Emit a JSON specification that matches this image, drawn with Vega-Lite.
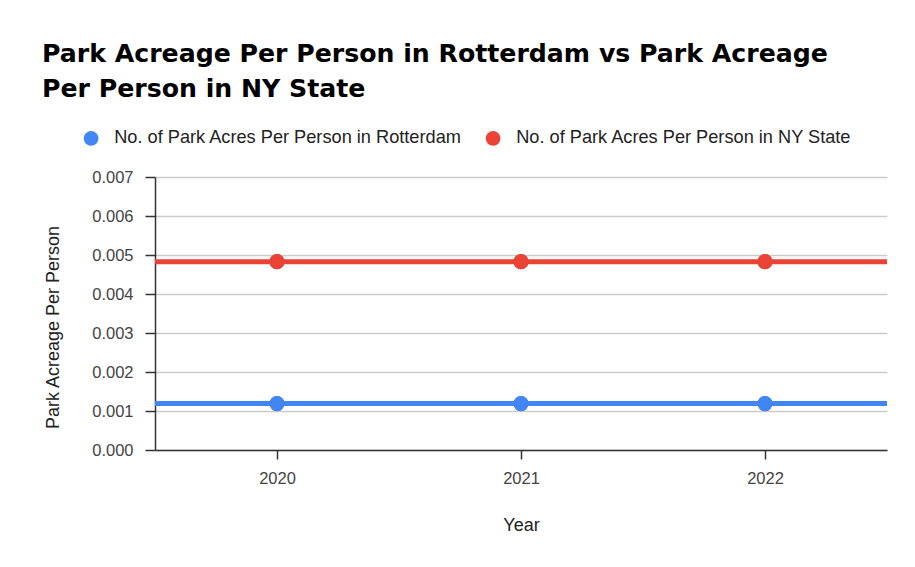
{
  "$schema": "https://vega.github.io/schema/vega-lite/v6.json",
  "width": 732,
  "height": 273,
  "autosize": {"type": "none"},
  "padding": {"left": 155, "top": 177, "right": 28, "bottom": 117},
  "background": "white",
  "title": {
    "text": ["Park Acreage Per Person in Rotterdam vs Park Acreage", "Per Person in NY State"],
    "anchor": "start",
    "frame": "group",
    "dx": -113,
    "offset": 27,
    "font": "DejaVu Sans",
    "fontSize": 25.2,
    "fontWeight": "bold",
    "color": "#000000",
    "lineHeight": 35
  },
  "data": {
    "values": [
      {"Year": "2020", "series": "No. of Park Acres Per Person in Rotterdam", "value": 0.00119},
      {"Year": "2021", "series": "No. of Park Acres Per Person in Rotterdam", "value": 0.00119},
      {"Year": "2022", "series": "No. of Park Acres Per Person in Rotterdam", "value": 0.00119},
      {"Year": "2020", "series": "No. of Park Acres Per Person in NY State", "value": 0.00483},
      {"Year": "2021", "series": "No. of Park Acres Per Person in NY State", "value": 0.00483},
      {"Year": "2022", "series": "No. of Park Acres Per Person in NY State", "value": 0.00483}
    ]
  },
  "config": {
    "view": {"stroke": null},
    "font": "Liberation Sans",
    "axis": {
      "domainColor": "#333333",
      "domainWidth": 1.5,
      "tickColor": "#333333",
      "tickWidth": 1.5,
      "labelFont": "Liberation Sans",
      "labelFontSize": 16.5,
      "labelColor": "#444444",
      "titleFont": "Liberation Sans",
      "titleFontSize": 18,
      "titleFontWeight": "normal",
      "titleColor": "#222222",
      "gridColor": "#cccccc",
      "gridWidth": 1.5
    }
  },
  "encoding": {
    "y": {
      "field": "value",
      "type": "quantitative",
      "scale": {"domain": [0, 0.007], "nice": false},
      "axis": {
        "title": "Park Acreage Per Person",
        "format": ".3f",
        "values": [0, 0.001, 0.002, 0.003, 0.004, 0.005, 0.006, 0.007],
        "labelOverlap": false,
        "tickSize": 10,
        "labelPadding": 12,
        "titlePadding": 29,
        "titleY": 150,
        "grid": true
      }
    },
    "color": {
      "field": "series",
      "type": "nominal",
      "scale": {
        "domain": ["No. of Park Acres Per Person in Rotterdam", "No. of Park Acres Per Person in NY State"],
        "range": ["#4285F4", "#EA4335"]
      },
      "legend": {
        "title": null,
        "orient": "none",
        "direction": "horizontal",
        "legendX": -73,
        "legendY": -48,
        "padding": 0,
        "symbolType": "circle",
        "symbolSize": 216,
        "symbolStrokeWidth": 0,
        "symbolOpacity": 1,
        "labelFont": "Liberation Sans",
        "labelFontSize": 18.2,
        "labelColor": "#222222",
        "labelOffset": 14,
        "columnPadding": 22,
        "labelLimit": 500
      }
    }
  },
  "layer": [
    {
      "mark": {"type": "point", "filled": true, "opacity": 1, "size": 227, "shape": "circle"},
      "encoding": {
        "x": {
          "field": "Year",
          "type": "ordinal",
          "scale": {"type": "point", "padding": 0.5},
          "axis": {"title": "Year", "labelAngle": 0, "tickSize": 9, "labelPadding": 11, "titlePadding": 30, "grid": false}
        }
      }
    },
    {
      "mark": {"type": "rule", "strokeWidth": 5},
      "encoding": {
        "y": {"aggregate": "mean", "field": "value", "type": "quantitative"}
      }
    },
    {
      "mark": {"type": "point", "filled": true, "opacity": 1, "size": 227, "shape": "circle"},
      "encoding": {
        "x": {"field": "Year", "type": "ordinal"}
      }
    }
  ]
}
